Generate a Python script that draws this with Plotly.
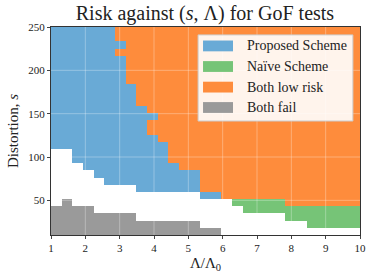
import numpy as np
import plotly.graph_objects as go

# Grid of outcomes (29 x 29 cells), top row first.
# F = Both fail, P = Proposed Scheme, N = Naive Scheme, B = Both low risk, . = none
lam_min, lam_max, n_lam = 1, 10, 29
s_min, s_max, n_s = 10, 250, 29

outcome_rows = [
    "PPPPPP" + "B" * 23,                 # row 28 (top)
    "PPPPPP" + "B" * 23,                 # 27
    "PPPPPPP" + "B" * 22,                # 26
    "PPPPPP" + "B" * 23,                 # 25
    "PPPPPPP" + "B" * 22,                # 24
    "PPPPPPP" + "B" * 22,                # 23
    "PPPPPPP" + "B" * 22,                # 22
    "PPPPPPP" + "B" * 22,                # 21
    "P" * 8 + "B" * 21,                  # 20
    "P" * 8 + "B" * 21,                  # 19
    "P" * 8 + "B" * 21,                  # 18
    "P" * 9 + "B" * 20,                  # 17
    "P" * 10 + "B" * 19,                 # 16
    "P" * 9 + "B" * 20,                  # 15
    "P" * 9 + "B" * 20,                  # 14
    "P" * 10 + "B" * 19,                 # 13
    "P" * 11 + "B" * 18,                 # 12
    ".." + "P" * 9 + "B" * 18,           # 11
    ".." + "P" * 9 + "B" * 18,           # 10
    "..." + "P" * 9 + "B" * 17,          # 9
    "...." + "P" * 10 + "B" * 15,        # 8
    "....." + "P" * 9 + "B" * 15,        # 7
    "." * 8 + "P" * 6 + "B" * 15,        # 6
    "." * 14 + "PP" + "B" * 13,          # 5
    ".F" + "." * 15 + "N" * 5 + "B" * 7, # 4
    "FFFF" + "." * 14 + "N" * 11,        # 3
    "F" * 8 + "." * 14 + "N" * 7,        # 2
    "F" * 14 + "." * 10 + "N" * 5,       # 1
    "F" * 16 + "." * 13,                 # 0 (bottom)
]

codes = ["F", "P", "N", "B"]
labels = ["Both fail", "Proposed Scheme", "Naïve Scheme", "Both low risk"]
colors = ["#9a9a9a", "#69aad6", "#76c477", "#fe8c3c"]
legend_order = ["P", "N", "B", "F"]

x_ticks = list(range(1, 11))
y_ticks = [50, 100, 150, 200, 250]

x_edges = np.linspace(lam_min, lam_max, n_lam + 1)
y_edges = np.linspace(s_min, s_max, n_s + 1)

z = []
for row in reversed(outcome_rows):
    z.append([codes.index(c) if c in codes else None for c in row])

colorscale = [[i / (len(codes) - 1), colors[i]] for i in range(len(codes))]

fig = go.Figure()
fig.add_trace(go.Heatmap(
    x=x_edges, y=y_edges, z=z, zmin=0, zmax=len(codes) - 1,
    colorscale=colorscale, showscale=False, hoverinfo="skip",
))

serif = "Liberation Serif, DejaVu Serif, serif"

shapes = []
# faint grid lines on top of the cells
for xv in x_ticks[1:-1]:
    shapes.append(dict(type="line", xref="x", yref="paper", x0=xv, x1=xv, y0=0, y1=1,
                       line=dict(color="rgba(255,255,255,0.3)", width=1), layer="above"))
for yv in y_ticks[:-1]:
    shapes.append(dict(type="line", xref="paper", yref="y", x0=0, x1=1, y0=yv, y1=yv,
                       line=dict(color="rgba(255,255,255,0.3)", width=1), layer="above"))

# legend drawn by hand (matplotlib-like patches)
shapes.append(dict(type="rect", xref="paper", yref="paper", x0=0.476, x1=0.977, y0=0.548, y1=0.962,
                   fillcolor="rgba(255,255,255,0.9)", line=dict(color="#cccccc", width=1), layer="above"))
annotations = []
ys = [0.909, 0.810, 0.711, 0.613]
for yc, code in zip(ys, legend_order):
    i = codes.index(code)
    shapes.append(dict(type="rect", xref="paper", yref="paper", x0=0.492, x1=0.589,
                       y0=yc - 0.026, y1=yc + 0.026, fillcolor=colors[i],
                       line=dict(width=0), layer="above"))
    annotations.append(dict(xref="paper", yref="paper", x=0.628, y=yc, text=labels[i],
                            showarrow=False, xanchor="left", yanchor="middle",
                            font=dict(family=serif, size=14, color="#222")))

fig.update_layout(
    width=374, height=280,
    margin=dict(l=51, r=14, t=27, b=45, autoexpand=False),
    paper_bgcolor="white", plot_bgcolor="white",
    title=dict(text="Risk against (<i>s</i>, Λ) for GoF tests", x=0.548, xanchor="center",
               y=0.952, yanchor="middle", font=dict(family=serif, size=20, color="#222")),
    xaxis=dict(range=[lam_min, lam_max], tickvals=x_ticks, ticks="outside", ticklen=3,
               showgrid=False, zeroline=False, showline=True, linecolor="#333", mirror=True,
               automargin=False,
               tickfont=dict(family=serif, size=11, color="#222"),
               title=dict(text="Λ/Λ<sub>0</sub>", font=dict(family=serif, size=15, color="#222"),
                          standoff=4)),
    yaxis=dict(range=[s_min, s_max], tickvals=y_ticks, ticks="outside", ticklen=3,
               showgrid=False, zeroline=False, showline=True, linecolor="#333", mirror=True,
               automargin=False,
               tickfont=dict(family=serif, size=11, color="#222"),
               title=dict(text="Distortion, <i>s</i>", font=dict(family=serif, size=15, color="#222"),
                          standoff=6)),
    shapes=shapes, annotations=annotations,
)

fig.write_html("out.html", config={"displayModeBar": False},
               post_script="document.body.style.margin='0px';")
